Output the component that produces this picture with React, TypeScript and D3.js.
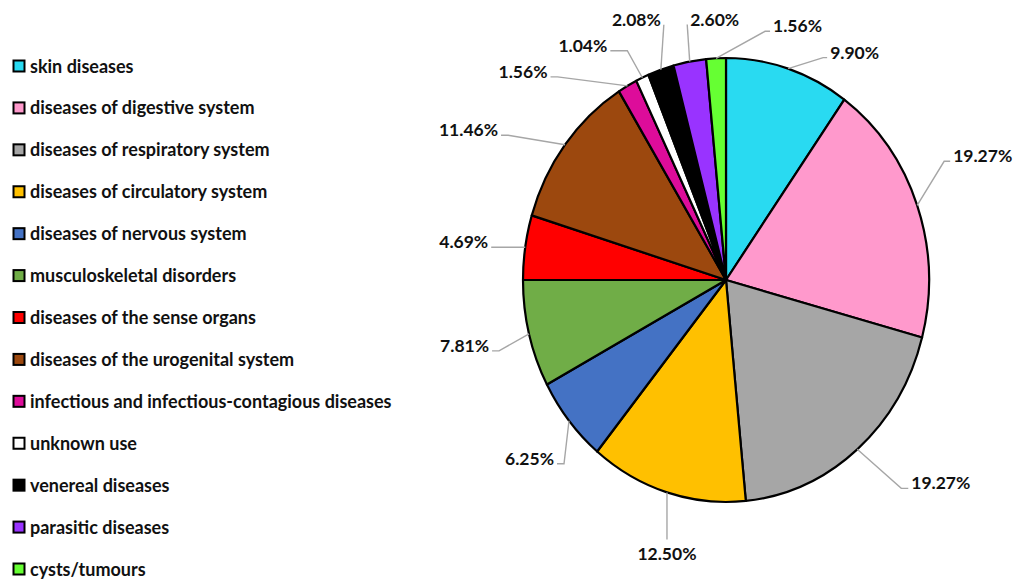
import { useRef, useEffect } from "react";
import * as d3 from "d3";

const categories = [
  "skin diseases",
  "diseases of digestive system",
  "diseases of respiratory system",
  "diseases of circulatory system",
  "diseases of nervous system",
  "musculoskeletal disorders",
  "diseases of the sense organs",
  "diseases of the urogenital system",
  "infectious and infectious-contagious diseases",
  "unknown use",
  "venereal diseases",
  "parasitic diseases",
  "cysts/tumours",
];

const values = [9.9, 19.27, 19.27, 12.5, 6.25, 7.81, 4.69, 11.46, 1.56, 1.04, 2.08, 2.6, 1.56];

const colors = [
  "#29DAF1", "#FF99CC", "#A6A6A6", "#FFC000", "#4472C4", "#70AD47", "#FF0000",
  "#9C480E", "#DD0C9A", "#FFFFFF", "#000000", "#9933FF", "#66FF33",
];

// leader line layout: elbow offset from the slice edge, tail length, text side
const labelLayout: { dx: number; dy: number; tail: number; side: "left" | "right" | "bottom" }[] = [
  { dx: 35, dy: -11, tail: 4, side: "right" },
  { dx: 27, dy: -44, tail: 6, side: "right" },
  { dx: 44, dy: 39, tail: 7, side: "right" },
  { dx: 0, dy: 47, tail: 0, side: "bottom" },
  { dx: -5, dy: 43, tail: 7, side: "left" },
  { dx: -30, dy: 17, tail: 7, side: "left" },
  { dx: -27, dy: 0, tail: 7, side: "left" },
  { dx: -57, dy: -9.5, tail: 7, side: "left" },
  { dx: -70, dy: -9, tail: 7, side: "left" },
  { dx: -15, dy: -27, tail: 17, side: "left" },
  { dx: 3, dy: -45, tail: 0, side: "left" },
  { dx: -2.5, dy: -37, tail: 0, side: "right" },
  { dx: 49, dy: -27, tail: 5, side: "right" },
];

const W = 1013;
const H = 580;

export default function App() {
  const svgRef = useRef<SVGSVGElement>(null);

  useEffect(() => {
    if (!svgRef.current) return;
    const svg = d3.select(svgRef.current);
    svg.selectAll("*").remove();

    const cx = 726;
    const cy = 280;
    const rx = 203;
    const ry = 222;
    const sy = ry / rx;

    const data = categories.map((c, i) => ({ name: c, value: values[i], color: colors[i], i }));
    type D = (typeof data)[number];

    const pie = d3.pie<D>().value((d) => d.value).sort(null);
    const arcs = pie(data);
    const arc = d3.arc<d3.PieArcDatum<D>>().innerRadius(0).outerRadius(rx);
    const edge = d3.arc<d3.PieArcDatum<D>>().innerRadius(rx).outerRadius(rx);

    // slices (circle squashed into the ellipse of the original)
    svg
      .append("g")
      .attr("transform", `translate(${cx},${cy}) scale(1,${sy})`)
      .selectAll("path")
      .data(arcs)
      .enter()
      .append("path")
      .attr("d", arc)
      .attr("fill", (d) => d.data.color)
      .attr("stroke", "#000")
      .attr("stroke-width", 2.2)
      .attr("stroke-linejoin", "round")
      .attr("vector-effect", "non-scaling-stroke");

    // labels with leader lines
    const lbl = svg.append("g").attr("font-family", "Lato, 'Open Sans', sans-serif").attr("font-weight", 700).attr("font-size", 17.5).attr("fill", "#111");
    arcs.forEach((a, i) => {
      const [ex, ey] = edge.centroid(a);
      const x0 = cx + ex;
      const y0 = cy + ey * sy;
      const L = labelLayout[i];
      const x1 = x0 + L.dx;
      const y1 = y0 + L.dy;
      const dir = L.side === "left" ? -1 : 1;
      const x2 = L.side === "bottom" ? x1 : x1 + dir * L.tail;
      lbl
        .append("path")
        .attr("d", d3.line()([[x0, y0], [x1, y1], [x2, y1]]))
        .attr("fill", "none")
        .attr("stroke", "#A6A6A6")
        .attr("stroke-width", 1.4);
      const t = lbl.append("text").text(`${a.data.value.toFixed(2)}%`);
      if (L.side === "bottom") {
        t.attr("x", x1).attr("y", y1 + 21).attr("text-anchor", "middle");
      } else if (L.side === "left") {
        t.attr("x", x2 - 3).attr("y", y1 + 1).attr("text-anchor", "end");
      } else {
        t.attr("x", x2 + 3).attr("y", y1 + 1).attr("text-anchor", "start");
      }
    });

    // legend
    const ly = d3.scaleLinear().domain([0, categories.length - 1]).range([66, 569]);
    const leg = svg.append("g").attr("font-family", "Lato, 'Open Sans', sans-serif").attr("font-weight", 700).attr("font-size", 18).attr("fill", "#111");
    const rows = leg
      .selectAll("g")
      .data(data)
      .enter()
      .append("g")
      .attr("transform", (d) => `translate(0,${ly(d.i)})`);
    rows
      .append("rect")
      .attr("x", 13.5)
      .attr("y", -5.5)
      .attr("width", 11)
      .attr("height", 11)
      .attr("fill", (d) => d.color)
      .attr("stroke", "#000")
      .attr("stroke-width", 2);
    rows
      .append("text")
      .attr("x", 30)
      .attr("y", 6.5)
      .text((d) => d.name);
  }, []);

  return (
    <svg
      ref={svgRef}
      width={W}
      height={H}
      style={{ position: "absolute", left: 0, top: 0, background: "#fff" }}
    />
  );
}
